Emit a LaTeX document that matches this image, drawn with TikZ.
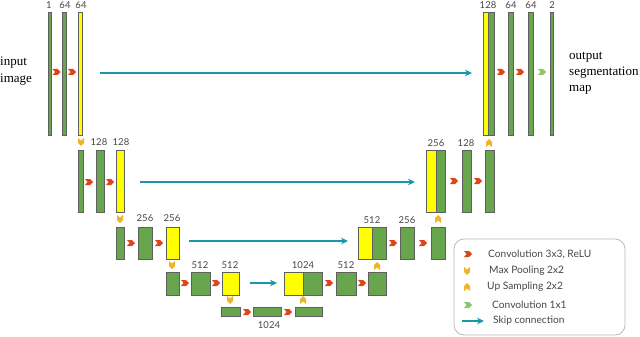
\documentclass[tikz,border=0pt]{standalone}
\usepackage{fontspec}
\setmainfont{Liberation Serif}
\setsansfont{Lato}
\usetikzlibrary{fit,arrows.meta}
\definecolor{ugreen}{RGB}{104,166,78}
\definecolor{ubord}{RGB}{95,95,95}
\definecolor{uyellow}{RGB}{255,255,0}
\definecolor{ured}{RGB}{222,70,25}
\definecolor{ugold}{RGB}{240,180,40}
\definecolor{ulgreen}{RGB}{140,198,110}
\definecolor{uteal}{RGB}{25,150,170}
\definecolor{utext}{RGB}{70,70,70}
\definecolor{ulegbord}{RGB}{185,185,185}
\tikzset{
  gbar/.style={draw=ubord, fill=ugreen, line width=0.6pt, inner sep=0pt, outer sep=0pt},
  ybar/.style={draw=ubord, fill=uyellow, line width=0.6pt, inner sep=0pt, outer sep=0pt},
  num/.style={font=\sffamily\fontsize{9.5}{9.5}\selectfont, text=utext, inner sep=0pt},
  legtext/.style={font=\sffamily\fontsize{10.2}{10.2}\selectfont, text=utext, inner sep=0pt, anchor=west},
  sidetext/.style={font=\fontsize{13}{13}\selectfont, inner sep=0pt, anchor=west},
  skiparrow/.style={draw=uteal, line width=1.8pt, -{Stealth[length=7pt,width=6.5pt]}},
  chev/.pic={\fill[#1] (-4,-3)--(1,-3)--(4,0)--(1,3)--(-4,3)--(-1.5,0)--cycle;},
}
\newcommand\mkbar[6]{\node[#6, fit={(#2,#3) (#4,#5)}] (#1) {};}
\newcommand\conv[2]{\pic at (#1,#2) {chev=ured};}
\newcommand\pooldown[2]{\pic[rotate=-90] at (#1,#2) {chev=ugold};}
\newcommand\sampleup[2]{\pic[rotate=90] at (#1,#2) {chev=ugold};}
\begin{document}
\begin{tikzpicture}[x=1pt, y=-1pt]
\useasboundingbox (0,0) rectangle (640,337);
% level 1
\mkbar{L1a}{48}{12}{51}{135}{gbar}
\mkbar{L1b}{62}{12}{66}{135}{gbar}
\mkbar{L1c}{78}{12}{82}{135}{ybar}
\mkbar{R1y}{483}{12}{488}{135}{ybar}
\mkbar{R1g}{488}{12}{494}{135}{gbar}
\mkbar{R1b}{508}{12}{513}{135}{gbar}
\mkbar{R1c}{528}{12}{533}{135}{gbar}
\mkbar{R1d}{550}{12}{553}{135}{gbar}
% level 2
\mkbar{L2a}{78}{150}{83}{212}{gbar}
\mkbar{L2b}{96}{150}{104}{212}{gbar}
\mkbar{L2c}{116}{150}{124}{212}{ybar}
\mkbar{R2y}{426}{150}{436}{212}{ybar}
\mkbar{R2g}{436}{150}{445}{212}{gbar}
\mkbar{R2b}{462}{150}{471}{212}{gbar}
\mkbar{R2c}{485}{150}{494}{212}{gbar}
% level 3
\mkbar{L3a}{116}{227}{124}{259}{gbar}
\mkbar{L3b}{138}{227}{152}{259}{gbar}
\mkbar{L3c}{166}{227}{179}{259}{ybar}
\mkbar{R3y}{358}{227}{372}{259}{ybar}
\mkbar{R3g}{372}{227}{386}{259}{gbar}
\mkbar{R3b}{400}{227}{414}{259}{gbar}
\mkbar{R3c}{431}{227}{445}{259}{gbar}
% level 4
\mkbar{L4a}{166}{272}{179}{295}{gbar}
\mkbar{L4b}{191}{272}{210}{295}{gbar}
\mkbar{L4c}{222}{272}{239}{295}{ybar}
\mkbar{R4y}{284}{272}{303}{295}{ybar}
\mkbar{R4g}{303}{272}{322}{295}{gbar}
\mkbar{R4b}{336}{272}{356}{295}{gbar}
\mkbar{R4c}{368}{272}{386}{295}{gbar}
% level 5
\mkbar{B1}{221}{307}{240}{316}{gbar}
\mkbar{B2}{253}{307}{281}{316}{gbar}
\mkbar{B3}{295}{307}{322}{316}{gbar}
% conv arrows
\conv{56.5}{72}\conv{72}{72}
\conv{501}{72}\conv{520}{72}
\pic at (542,72) {chev=ulgreen};
\conv{89}{182}\conv{110}{182}
\conv{454}{181}\conv{478}{181}
\conv{131}{243}\conv{159}{243}
\conv{393}{243}\conv{423}{243}
\conv{185}{283}\conv{216}{283}
\conv{329}{283}\conv{362}{283}
\conv{247}{312}\conv{288}{312}
% pooling / upsampling
\pooldown{81}{142}\pooldown{120}{219}\pooldown{172}{265}\pooldown{230}{300}
\sampleup{489}{143}\sampleup{438}{219}\sampleup{377}{266}\sampleup{303}{300}
% labels
\node[num] (n1) at (49,5) {1};
\node[num] (n2) at (65,5) {64};
\node[num] (n3) at (81,5) {64};
\node[num] (n4) at (488,5) {128};
\node[num] (n5) at (511,5) {64};
\node[num] (n6) at (531,5) {64};
\node[num] (n7) at (552,5) {2};
\node[num] (n8) at (99,142) {128};
\node[num] (n9) at (121,142) {128};
\node[num] (n10) at (436,143) {256};
\node[num] (n11) at (466,143) {128};
\node[num] (n12) at (145,218) {256};
\node[num] (n13) at (172,218) {256};
\node[num] (n14) at (372,220) {512};
\node[num] (n15) at (407,220) {256};
\node[num] (n16) at (200,265) {512};
\node[num] (n17) at (230,265) {512};
\node[num] (n18) at (303,265) {1024};
\node[num] (n19) at (346,265) {512};
\node[num] (n20) at (269,325) {1024};
% side texts
\node[sidetext] (in1) at (0,63) {input};
\node[sidetext] (in2) at (0,80) {image};
\node[sidetext] (out1) at (569,57) {output};
\node[sidetext] (out2) at (569,73) {segmentation};
\node[sidetext] (out3) at (569,90) {map};
% skip connections
\coordinate (s1a) at (100,73); \coordinate (s1b) at (472,73);
\coordinate (s2a) at (140,182); \coordinate (s2b) at (415,182);
\coordinate (s3a) at (189,241); \coordinate (s3b) at (348,241);
\coordinate (s4a) at (250,283); \coordinate (s4b) at (277,283);
\draw[skiparrow] (s1a) -- (s1b);
\draw[skiparrow] (s2a) -- (s2b);
\draw[skiparrow] (s3a) -- (s3b);
\draw[skiparrow] (s4a) -- (s4b);
% legend
\node[draw=ulegbord, line width=0.8pt, rounded corners=10pt, inner sep=0pt, fit={(454,239) (625,335)}] (legend) {};
\conv{468}{254}
\pooldown{467}{271}
\sampleup{467}{287}
\pic at (468,305) {chev=ulgreen};
\coordinate (lga) at (462,321); \coordinate (lgb) at (484,321);
\draw[skiparrow] (lga) -- (lgb);
\node[legtext] (l1) at (488,254) {Convolution 3x3, ReLU};
\node[legtext] (l2) at (489,271) {Max Pooling 2x2};
\node[legtext] (l3) at (487,287) {Up Sampling 2x2};
\node[legtext] (l4) at (492,305) {Convolution 1x1};
\node[legtext] (l5) at (493,321) {Skip connection};
\end{tikzpicture}
\end{document}
